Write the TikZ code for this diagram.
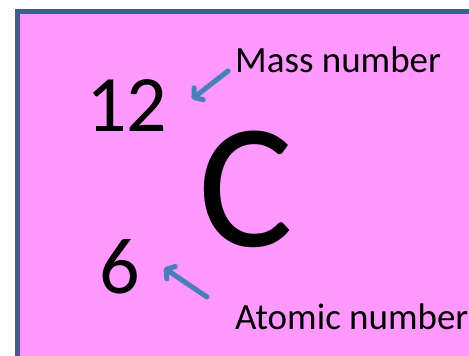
\documentclass[tikz,border=0pt]{standalone}
\usepackage{fontspec}
\setmainfont{Carlito}
\usetikzlibrary{arrows.meta,positioning}
\definecolor{rosa}{HTML}{FF99FF}
\definecolor{marco}{HTML}{3E5F8A}
\definecolor{flecha}{HTML}{4A7EBB}

\begin{document}
\begin{tikzpicture}[x=1pt,y=-1pt,line cap=round,
    simbolo/.style={inner sep=0pt,font=\fontsize{80}{80}\selectfont},
    rotulo/.style={inner sep=0pt,font=\fontsize{37}{37}\selectfont},
    indica/.style={flecha,line width=5pt,
      arrows={-{Straight Barb[round,length=6pt,width=15pt]}}}]
  \useasboundingbox (0,0) rectangle (469,356);
  \clip (0,0) rectangle (469,356);
  % casilla del elemento
  \draw[marco,fill=rosa,line width=5pt] (17.5,11.5) rectangle (520,420);
  % numeros y simbolo
  \node[simbolo,anchor=base west] (masa) at (86,131) {12};
  \node[simbolo,anchor=base west] (atomico) at (99,293) {6};
  \node[inner sep=0pt,font=\fontsize{178}{178}\selectfont,anchor=base west]
       (carbono) at (198,246) {C};
  % rotulos
  \node[rotulo,anchor=base west] (rmasa) at (235,72) {Mass number};
  \node[rotulo,anchor=base west] (ratomico) at (235,329) {Atomic number};
  % flechas
  \coordinate (om) at (228,71);
  \coordinate (pm) at (192,99);
  \coordinate (oa) at (207,297);
  \coordinate (pa) at (164,268);
  \draw[indica] (om) -- (pm);
  \draw[indica] (oa) -- (pa);
\end{tikzpicture}
\end{document}
